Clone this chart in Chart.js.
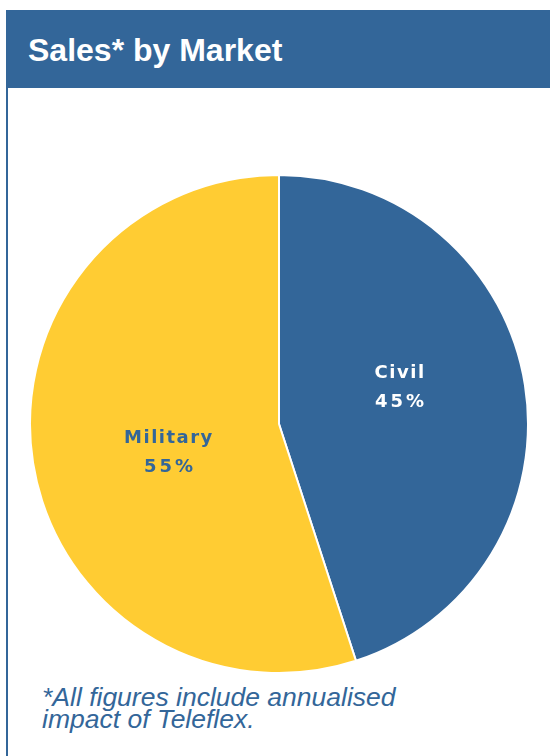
<!DOCTYPE html>
<html>
<head>
<meta charset="utf-8">
<script src="https://cdn.jsdelivr.net/npm/chart.js@4"></script>
<style>
  html, body { margin: 0; padding: 0; background: #ffffff; }
  body { width: 550px; height: 756px; position: relative; overflow: hidden; }
  #header { position: absolute; left: 6px; top: 10px; width: 544px; height: 78px; background: #336699; }
  #title { position: absolute; left: 28px; top: 34px; font: bold 32px "Liberation Sans", Arial, sans-serif; line-height: 32px; color: #ffffff; white-space: nowrap; }
  #leftline { position: absolute; left: 6px; top: 88px; width: 2px; height: 668px; background: #336699; }
  #chartbox { position: absolute; left: 29px; top: 174px; width: 500px; height: 500px; }
  #note { position: absolute; left: 42px; top: 686px; font: italic 26.5px "Liberation Sans", Arial, sans-serif; line-height: 22px; color: #336699; white-space: nowrap; }
</style>
</head>
<body>
<div id="header"></div>
<div id="title">Sales* by Market</div>
<div id="leftline"></div>
<div id="chartbox"><canvas id="c"></canvas></div>
<div id="note">*All figures include annualised<br>impact of Teleflex.</div>
<script>
const categories = ["Civil", "Military"];
const salesShare = [45, 55];
const sliceColors = ["#336699", "#FFCC33"];
const labelColors = ["#ffffff", "#336699"];

const sliceLabels = {
  id: "sliceLabels",
  afterDatasetsDraw(chart, args, opts) {
    const ctx = chart.ctx;
    const meta = chart.getDatasetMeta(0);
    const ds = chart.data.datasets[0];
    meta.data.forEach((arc, i) => {
      const p = arc.getProps(["x", "y", "startAngle", "endAngle", "outerRadius"], true);
      const mid = (p.startAngle + p.endAngle) / 2 + opts.angleShift[i] * Math.PI / 180;
      const r = p.outerRadius * opts.radius[i];
      const cx = p.x + Math.cos(mid) * r;
      const cy = p.y + Math.sin(mid) * r;
      ctx.save();
      ctx.fillStyle = labelColors[i];
      ctx.textAlign = "center";
      ctx.textBaseline = "alphabetic";
      ctx.font = "bold 18px 'DejaVu Sans', Verdana, sans-serif";
      ctx.letterSpacing = "1.5px";
      ctx.fillText(chart.data.labels[i], cx + 1, cy - 8);
      ctx.letterSpacing = "3px";
      ctx.fillText(ds.data[i] + "%", cx + 2, cy + 21);
      ctx.restore();
    });
  }
};

new Chart(document.getElementById("c"), {
  type: "pie",
  data: {
    labels: categories,
    datasets: [{
      data: salesShare,
      backgroundColor: sliceColors,
      borderColor: "#ffffff",
      borderWidth: 2
    }]
  },
  options: {
    responsive: true,
    maintainAspectRatio: false,
    animation: false,
    layout: { padding: 0 },
    plugins: {
      legend: { display: false },
      tooltip: { enabled: false },
      sliceLabels: { radius: [0.506, 0.459], angleShift: [-8.6, -4.7] }
    }
  },
  plugins: [sliceLabels]
});
</script>
</body>
</html>
